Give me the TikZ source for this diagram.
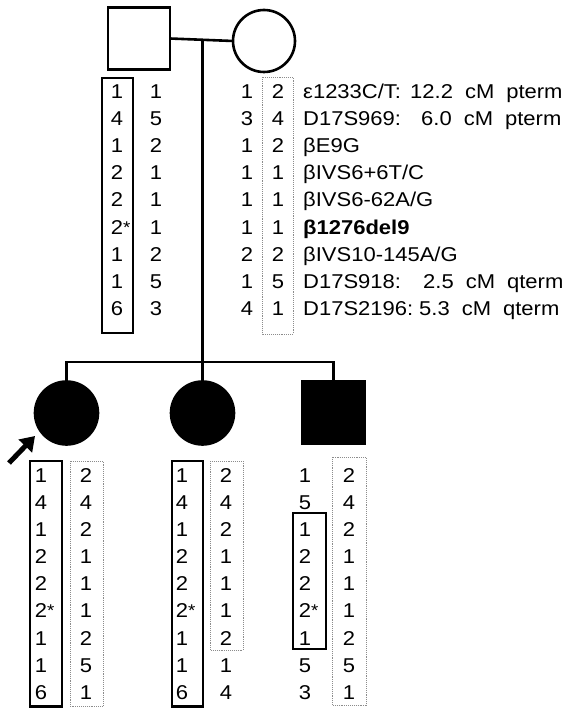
\documentclass[tikz,border=0pt]{standalone}
\usepackage{fontspec}
\setmainfont{Liberation Sans}[FakeStretch=1.1]
\usetikzlibrary{arrows.meta}
\newcommand\st{\rlap{\raisebox{1pt}{\fontsize{17}{17}\selectfont *}}}
\newcommand\gap{\hspace{0.6em}}
\tikzset{
  ped/.style={draw=black, line width=2.6pt, inner sep=0pt, outer sep=0pt},
  aff/.style={ped, fill=black},
  pline/.style={line width=2.6pt},
  solidbox/.style={line width=2.4pt},
  dotbox/.style={draw=black!45, line width=0.9pt, densely dotted},
  allele/.style={inner sep=0pt, anchor=base, font=\fontsize{20}{24}\selectfont},
  mlabel/.style={inner sep=0pt, anchor=base west, font=\fontsize{20}{24}\selectfont},
}
\begin{document}
\begin{tikzpicture}[x=1pt,y=-1pt]
\useasboundingbox (0,0) rectangle (576,708);
% pedigree symbols
\node[ped, rectangle, minimum size=62pt] (father) at (139,38.5) {};
\node[ped, circle, minimum size=62pt] (mother) at (264,41) {};
\node[aff, circle, minimum size=63pt] (c1) at (66.5,413) {};
\node[aff, circle, minimum size=63pt] (c2) at (202.5,413) {};
\node[aff, rectangle, minimum size=62pt] (c3) at (333.5,412.5) {};
\coordinate (m) at (202.5,41);
\coordinate (sib) at (202.5,362);
\coordinate (sibL) at (66.5,362);
\coordinate (sibR) at (333.5,362);
\draw[pline] (father.east) -- (mother.west);
\draw[pline] (m) -- (sib) -- (c2.north);
\draw[pline] (c1.north) -- (sibL) -- (sibR) -- (c3.north);
% proband arrow
\coordinate (atail) at (9,463);
\coordinate (atip) at (35,436);
\draw[line width=5pt, -{Triangle[length=14pt,width=18pt]}] (atail) -- (atip);
% parents alleles
\foreach \v [count=\i] in {1,4,1,2,2,{2\st},1,1,6}
  \node[allele] (f1-\i) at (117,{98.2+27.2*(\i-1)}) {\v};
\foreach \v [count=\i] in {1,5,2,1,1,1,2,5,3}
  \node[allele] (f2-\i) at (156,{98.2+27.2*(\i-1)}) {\v};
\foreach \v [count=\i] in {1,3,1,1,1,1,2,1,4}
  \node[allele] (m1-\i) at (247,{98.2+27.2*(\i-1)}) {\v};
\foreach \v [count=\i] in {2,4,2,1,1,1,2,5,1}
  \node[allele] (m2-\i) at (278,{98.2+27.2*(\i-1)}) {\v};
% marker labels
\foreach \t [count=\i] in {ε1233C/T:,D17S969:,βE9G,βIVS6+6T/C,βIVS6-62A/G,{\textbf{β1276del9}},βIVS10-145A/G,D17S918:,D17S2196:}
  \node[mlabel] (lab-\i) at (303,{98.2+27.2*(\i-1)}) {\t};
\node[mlabel] (d-1) at (410,98.2) {12.2\gap cM\gap pterm};
\node[mlabel] (d-2) at (421,125.4) {6.0\gap cM\gap pterm};
\node[mlabel] (d-8) at (423,288.6) {2.5\gap cM\gap qterm};
\node[mlabel] (d-9) at (419,315.8) {5.3\gap cM\gap qterm};
\draw[solidbox] (102,78) rectangle (133,333);
\draw[dotbox] (262,77) rectangle (293,334);
% children alleles
\foreach \v [count=\i] in {1,4,1,2,2,{2\st},1,1,6}
  \node[allele] (a1-\i) at (41,{482.2+27.15*(\i-1)}) {\v};
\foreach \v [count=\i] in {2,4,2,1,1,1,2,5,1}
  \node[allele] (a2-\i) at (86,{482.2+27.15*(\i-1)}) {\v};
\foreach \v [count=\i] in {1,4,1,2,2,{2\st},1,1,6}
  \node[allele] (b1-\i) at (182,{482.2+27.15*(\i-1)}) {\v};
\foreach \v [count=\i] in {2,4,2,1,1,1,2,1,4}
  \node[allele] (b2-\i) at (226,{482.2+27.15*(\i-1)}) {\v};
\foreach \v [count=\i] in {1,5,1,2,2,{2\st},1,5,3}
  \node[allele] (e1-\i) at (305,{482.2+27.15*(\i-1)}) {\v};
\foreach \v [count=\i] in {2,4,2,1,1,1,2,5,1}
  \node[allele] (e2-\i) at (349,{482.2+27.15*(\i-1)}) {\v};
\draw[solidbox] (30,461) rectangle (62,706.5);
\draw[dotbox] (70,461) rectangle (103,706.5);
\draw[solidbox] (172,461) rectangle (203,706.5);
\draw[dotbox] (210,461) rectangle (243,650);
\draw[solidbox] (293,513) rectangle (326,649);
\draw[dotbox] (332,457) rectangle (366,705);
\end{tikzpicture}
\end{document}
